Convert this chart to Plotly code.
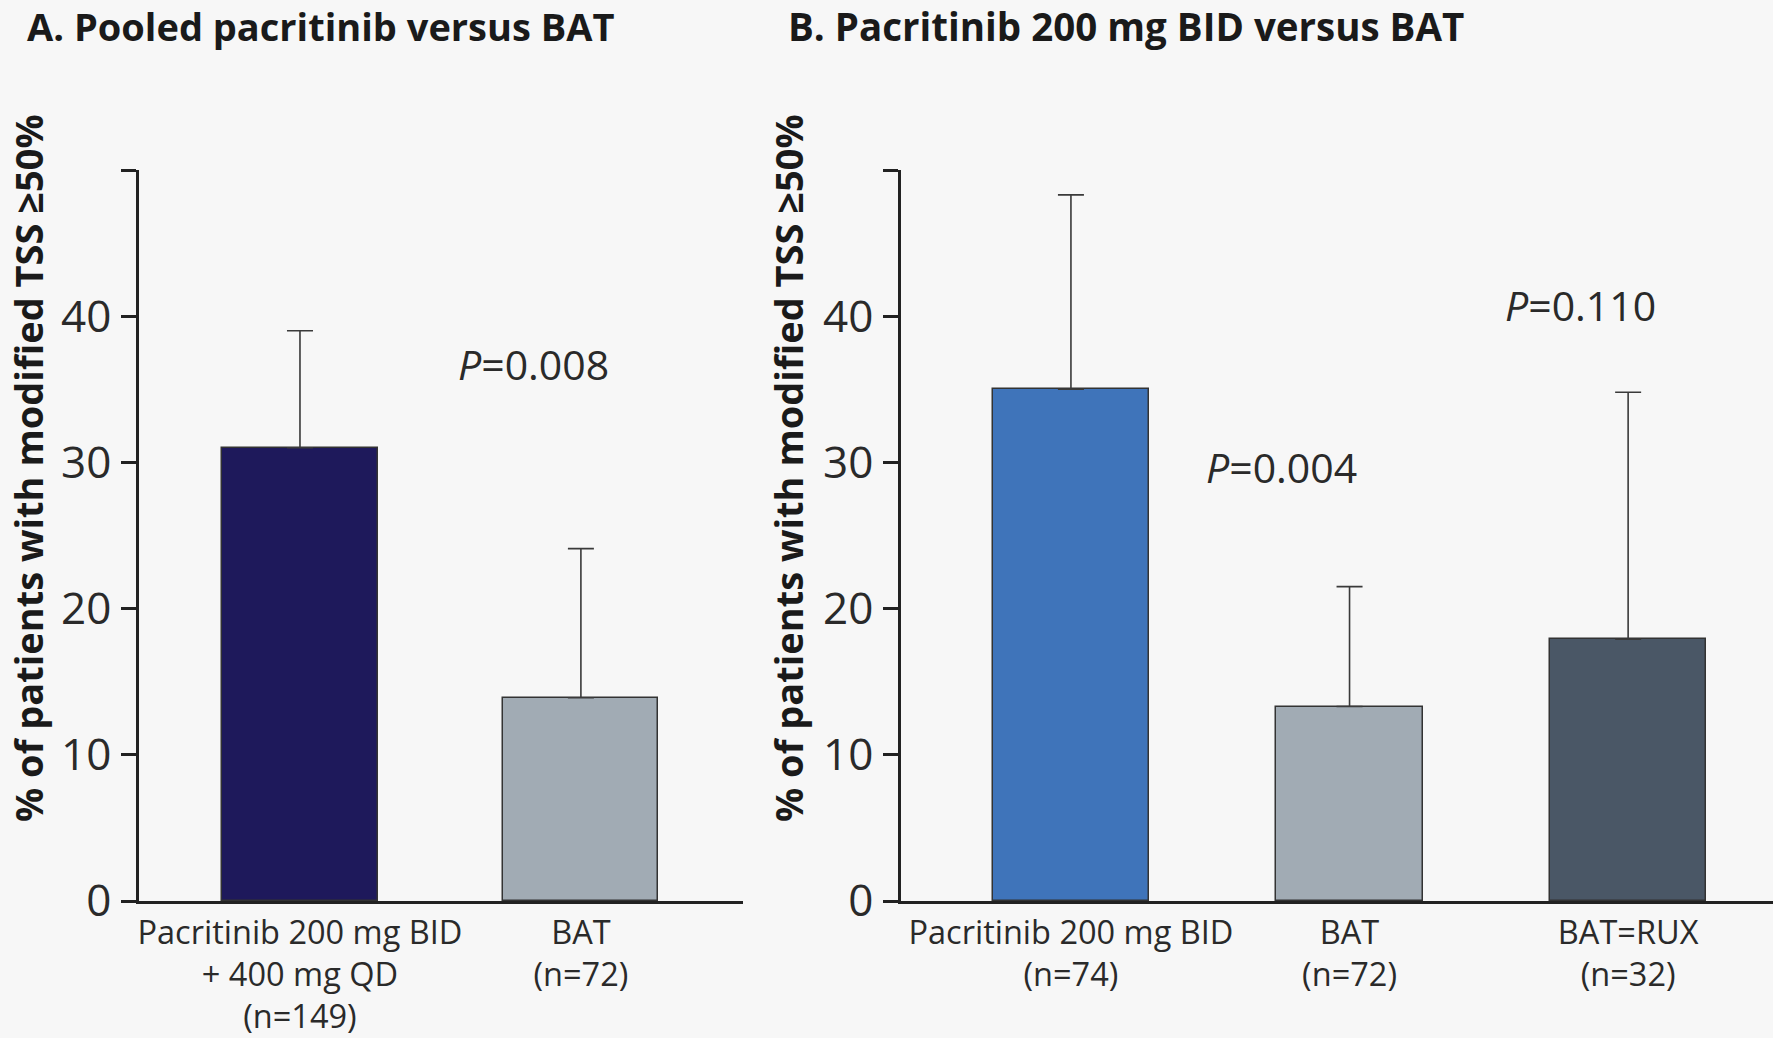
import plotly.graph_objects as go

# ---- data ----
cats_a = ["Pacritinib 200 mg BID<br>+ 400 mg QD<br>(n=149)", "BAT<br>(n=72)"]
vals_a = [31.0, 13.9]
err_a = [8.0, 10.2]
colors_a = ["#1e195b", "#a1abb4"]

cats_b = ["Pacritinib 200 mg BID<br>(n=74)", "BAT<br>(n=72)", "BAT=RUX<br>(n=32)"]
vals_b = [35.0, 13.3, 17.9]
err_b = [13.3, 8.2, 16.9]
colors_b = ["#3f74ba", "#a1abb4", "#4a5766"]

y_ticks = [0, 10, 20, 30, 40, 50]
y_ticktext = ["0", "10", "20", "30", "40", ""]

title_a = "A. Pooled pacritinib versus BAT"
title_b = "B. Pacritinib 200 mg BID versus BAT"
y_title = "% of patients with modified TSS \u226550%"
p_a = ("<i>P</i>=0.008", 0.83, 36.7)
p_b = [("<i>P</i>=0.004", 0.755, 29.7), ("<i>P</i>=0.110", 1.83, 40.8)]

W, H = 1773, 1038
BG = "#f7f7f7"
TXT = "#2a2a2a"
FONT = "Open Sans"

fig = go.Figure()

err_style = dict(type="data", symmetric=False, thickness=1.6, width=13, color="#3a3a3a")

fig.add_trace(go.Bar(
    x=list(range(len(cats_a))), y=vals_a, width=0.552,
    marker=dict(color=colors_a, line=dict(color="#333333", width=1.5)),
    error_y=dict(array=err_a, arrayminus=[0] * len(err_a), **err_style),
    xaxis="x", yaxis="y", showlegend=False, hoverinfo="skip"))

fig.add_trace(go.Bar(
    x=list(range(len(cats_b))), y=vals_b, width=[0.557, 0.528, 0.56],
    marker=dict(color=colors_b, line=dict(color="#333333", width=1.5)),
    error_y=dict(array=err_b, arrayminus=[0] * len(err_b), **err_style),
    xaxis="x2", yaxis="y2", showlegend=False, hoverinfo="skip"))

ydom = [(H - 901) / H, (H - 170) / H]

xcommon = dict(showline=True, linecolor="#222222", linewidth=2.5, ticks="",
               showgrid=False, zeroline=False, tickmode="array", automargin=False,
               tickfont=dict(family=FONT, size=32.5, color=TXT), ticklabelstandoff=1)
ycommon = dict(showline=True, linecolor="#222222", linewidth=2.5, ticks="outside",
               ticklen=15, tickwidth=2.5, tickcolor="#222222", range=[0, 50],
               tickmode="array", tickvals=y_ticks, ticktext=y_ticktext,
               showgrid=False, zeroline=False, automargin=False,
               tickfont=dict(family=FONT, size=44, color=TXT), ticklabelstandoff=1)

fig.update_layout(
    width=W, height=H,
    margin=dict(l=0, r=0, t=0, b=0),
    paper_bgcolor=BG, plot_bgcolor=BG,
    bargap=0,
    xaxis=dict(domain=[139 / W, 743 / W], range=[-0.573, 1.577],
               tickvals=list(range(len(cats_a))), ticktext=cats_a, anchor="y", **xcommon),
    yaxis=dict(domain=ydom, anchor="x", **ycommon),
    xaxis2=dict(domain=[901 / W, 1.0], range=[-0.61, 2.52],
                tickvals=list(range(len(cats_b))), ticktext=cats_b, anchor="y2", **xcommon),
    yaxis2=dict(domain=ydom, anchor="x2", **ycommon),
)

annos = []
annos.append(dict(text="<b>" + title_a + "</b>", xref="paper", yref="paper",
                  x=25 / W, y=1 - 26 / H, xanchor="left", yanchor="middle", showarrow=False,
                  font=dict(family=FONT, size=38, color="#1a1a1a")))
annos.append(dict(text="<b>" + title_b + "</b>", xref="paper", yref="paper",
                  x=786 / W, y=1 - 26 / H, xanchor="left", yanchor="middle", showarrow=False,
                  font=dict(family=FONT, size=38.5, color="#1a1a1a")))
for xc in (28, 788):
    annos.append(dict(text="<b>" + y_title + "</b>", xref="paper", yref="paper",
                      x=xc / W, y=1 - 468 / H, xanchor="center", yanchor="middle",
                      textangle=-90, showarrow=False,
                      font=dict(family=FONT, size=38, color="#1a1a1a")))
annos.append(dict(text=p_a[0], x=p_a[1], y=p_a[2], xref="x", yref="y", showarrow=False,
                  font=dict(family=FONT, size=41, color=TXT)))
for t, xv, yv in p_b:
    annos.append(dict(text=t, x=xv, y=yv, xref="x2", yref="y2", showarrow=False,
                      font=dict(family=FONT, size=41, color=TXT)))
fig.update_layout(annotations=annos)

fig.write_html("out.html")
